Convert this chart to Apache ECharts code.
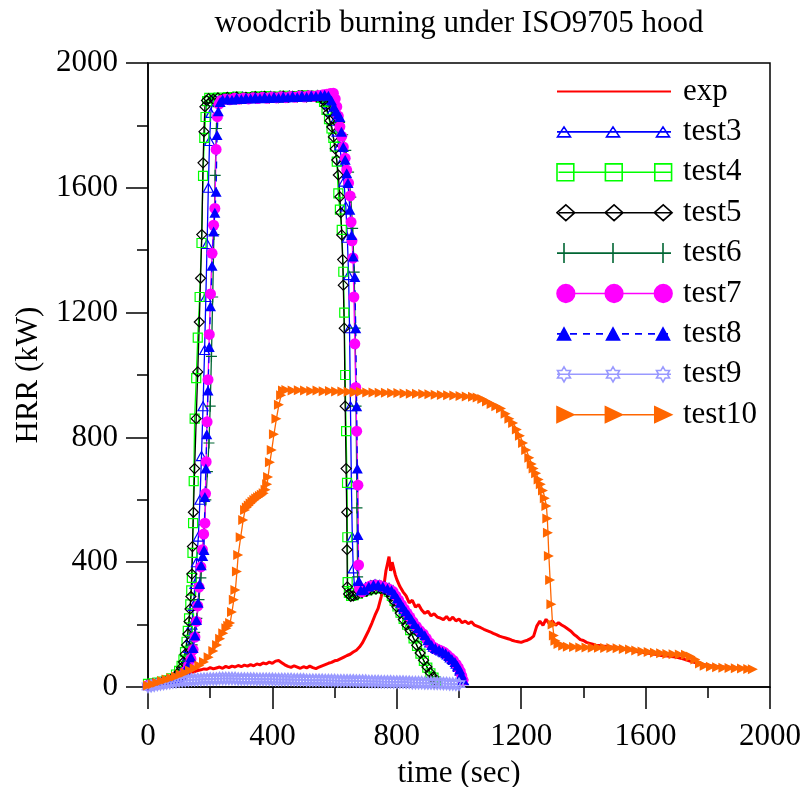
<!DOCTYPE html>
<html>
<head>
<meta charset="utf-8">
<script src="https://cdn.jsdelivr.net/npm/echarts@6/dist/echarts.min.js"></script>
<style>html,body{margin:0;padding:0;background:#fff}#c{width:805px;height:787px}</style>
</head>
<body>
<div id="c"></div>
<script>
// ---------------- data (time sec, HRR kW) ----------------
const xTicks = [0, 400, 800, 1200, 1600, 2000];
const yTicks = [0, 400, 800, 1200, 1600, 2000];
const seriesNames = ['exp','test3','test4','test5','test6','test7','test8','test9','test10'];

const exp = [[0,2],[10,5],[20,9],[30,12],[40,16],[50,18],[60,23],[70,25],[80,29],[90,31],[100,35],[110,37],[120,41],[130,43],[140,47],[150,49],[160,53],[170,55],[180,58],[190,57],[200,62],[210,58],[220,61],[230,64],[240,60],[250,66],[260,62],[270,67],[280,64],[290,69],[300,65],[310,70],[320,67],[330,72],[340,68],[350,74],[360,71],[370,77],[380,74],[390,80],[400,76],[410,83],[420,85],[430,78],[440,71],[450,66],[460,63],[470,68],[480,64],[490,60],[500,65],[510,61],[520,67],[530,62],[540,59],[550,64],[560,68],[570,72],[580,76],[590,79],[600,84],[610,86],[620,91],[630,96],[640,101],[650,105],[660,112],[670,118],[680,128],[690,142],[700,162],[710,182],[720,205],[730,230],[740,252],[750,290],[760,335],[765,372],[770,395],[775,418],[780,372],[785,400],[790,380],[795,360],[800,345],[810,322],[820,305],[830,292],[840,270],[850,278],[860,256],[870,264],[880,247],[890,236],[900,243],[910,228],[920,235],[930,224],[940,221],[950,216],[960,226],[970,214],[980,224],[990,212],[1000,218],[1010,206],[1020,211],[1030,203],[1040,209],[1050,198],[1060,194],[1070,190],[1080,185],[1090,181],[1100,177],[1110,172],[1120,168],[1130,163],[1140,160],[1150,157],[1160,154],[1170,150],[1180,147],[1190,145],[1200,143],[1210,147],[1220,150],[1230,155],[1240,163],[1250,195],[1260,211],[1270,198],[1280,217],[1290,203],[1300,212],[1310,198],[1320,206],[1330,199],[1340,193],[1350,186],[1360,179],[1370,168],[1380,161],[1390,152],[1400,149],[1410,143],[1420,140],[1430,137],[1440,134],[1450,133],[1460,131],[1470,131],[1480,129],[1490,128],[1500,127],[1510,126],[1520,125],[1530,122],[1540,120],[1550,119],[1560,117],[1570,114],[1580,112],[1590,111],[1600,109],[1610,108],[1620,107],[1630,105],[1640,104],[1650,101],[1660,100],[1670,99],[1680,98],[1690,97],[1700,95],[1710,93],[1720,90],[1730,87],[1740,84],[1750,81],[1760,78],[1770,75],[1780,72],[1790,71],[1800,70],[1810,68],[1820,67],[1830,66],[1840,65],[1850,64],[1860,63],[1870,63],[1880,62],[1890,61],[1900,61],[1910,60],[1920,59],[1930,58]];

const test3 = [[0,7],[15,9],[30,11],[45,14],[60,18],[75,23],[90,31],[100,40],[110,54],[118,72],[125,95],[131,125],[136,160],[141,200],[146,260],[151,330],[156,400],[162,482],[167,600],[172,740],[177,900],[182,1080],[186,1250],[190,1420],[194,1600],[198,1750],[202,1840],[207,1878],[214,1887],[229,1885],[244,1889],[259,1886],[274,1891],[289,1888],[304,1892],[319,1887],[334,1891],[349,1889],[364,1893],[379,1890],[394,1894],[409,1889],[424,1892],[439,1890],[454,1895],[469,1891],[484,1894],[499,1892],[514,1896],[529,1893],[544,1895],[558,1893],[570,1885],[580,1868],[590,1845],[600,1815],[608,1780],[616,1735],[623,1685],[630,1620],[636,1540],[641,1440],[645,1320],[648,1150],[651,900],[654,650],[657,480],[660,380],[664,320],[672,308],[686,312],[700,320],[715,326],[730,329],[745,327],[760,324],[775,318],[788,310],[797,295],[806,280],[815,265],[824,250],[833,238],[842,225],[852,210],[863,195],[874,182],[885,172],[895,158],[906,143],[918,129],[930,122],[942,117],[952,112],[962,104],[972,95],[982,87],[991,75],[998,64],[1004,52],[1009,38],[1014,22]];

const test4 = [[0,10],[15,12],[30,14],[45,17],[60,21],[75,28],[90,40],[100,52],[108,68],[114,88],[119,112],[124,145],[128,180],[132,220],[136,265],[139,310],[141,350],[143,430],[145,525],[147,660],[150,860],[155,990],[160,1120],[166,1250],[172,1423],[177,1638],[181,1760],[185,1827],[190,1878],[197,1888],[212,1886],[227,1889],[242,1886],[257,1891],[272,1888],[287,1892],[302,1887],[317,1891],[332,1889],[347,1893],[362,1890],[377,1894],[392,1889],[407,1892],[422,1890],[437,1895],[452,1891],[467,1894],[482,1892],[497,1896],[512,1892],[527,1895],[542,1893],[556,1888],[566,1875],[574,1850],[582,1820],[590,1790],[596,1760],[601,1732],[607,1684],[612,1582],[617,1530],[623,1465],[628,1331],[631,1200],[634,1000],[637,820],[640,654],[641,480],[642,336],[646,302],[653,292],[662,294],[675,299],[690,305],[705,310],[720,314],[735,316],[750,317],[762,315],[774,306],[784,292],[793,276],[802,258],[812,238],[822,218],[833,200],[843,182],[854,156],[865,132],[876,107],[887,84],[898,62],[908,44],[918,30],[926,18]];

const test5 = [[0,8],[15,10],[30,12],[45,15],[60,19],[75,25],[90,36],[100,48],[108,62],[114,80],[119,105],[124,135],[128,170],[132,210],[135,250],[138,290],[141,362],[143,450],[146,560],[150,700],[155,860],[160,1010],[165,1170],[169,1310],[173,1450],[177,1680],[180,1780],[183,1860],[188,1880],[195,1886],[210,1884],[225,1888],[240,1885],[255,1890],[270,1887],[285,1891],[300,1886],[315,1890],[330,1888],[345,1892],[360,1889],[375,1893],[390,1888],[405,1891],[420,1889],[435,1894],[450,1890],[465,1893],[480,1891],[495,1895],[510,1891],[525,1894],[540,1892],[555,1890],[565,1880],[572,1862],[579,1840],[585,1815],[591,1795],[596,1763],[602,1725],[607,1689],[612,1641],[617,1571],[620,1520],[623,1449],[626,1370],[628,1288],[631,1150],[634,900],[637,700],[639,560],[640,440],[641,321],[645,298],[652,290],[660,292],[672,296],[688,302],[703,307],[718,312],[733,314],[748,315],[760,313],[772,305],[782,290],[791,275],[800,257],[811,237],[821,216],[832,199],[842,183],[853,158],[864,134],[875,109],[886,86],[897,64],[907,46],[917,32],[924,20]];

const test6 = [[0,6],[15,8],[30,10],[45,13],[60,16],[75,21],[90,28],[100,35],[110,46],[120,62],[128,82],[135,105],[142,135],[150,175],[157,220],[164,280],[170,350],[176,430],[181,520],[186,600],[191,690],[196,782],[200,900],[204,1060],[208,1250],[212,1450],[216,1640],[220,1790],[225,1860],[232,1882],[245,1886],[260,1884],[275,1889],[290,1886],[305,1890],[320,1887],[335,1891],[350,1888],[365,1892],[380,1889],[395,1893],[410,1890],[425,1894],[440,1890],[455,1894],[470,1892],[485,1896],[500,1893],[515,1896],[530,1894],[545,1897],[560,1895],[573,1890],[585,1880],[596,1862],[606,1840],[616,1810],[626,1770],[636,1720],[645,1650],[652,1570],[658,1470],[663,1330],[666,1150],[669,900],[672,574],[674,353],[678,312],[690,308],[705,318],[720,325],[735,326],[750,323],[765,318],[778,312],[790,302],[800,288],[812,270],[824,250],[836,233],[848,216],[860,200],[872,185],[885,170],[898,150],[910,136],[922,126],[935,119],[948,113],[960,104],[972,95],[984,84],[994,70],[1002,55],[1008,38],[1012,24]];

const test7 = [[0,5],[15,7],[30,9],[45,11],[60,14],[75,18],[90,24],[100,30],[110,38],[120,50],[130,68],[138,90],[145,120],[151,160],[156,210],[160,260],[164,320],[170,385],[175,440],[179,490],[183,525],[185,620],[187,722],[190,850],[193,985],[197,1130],[201,1260],[206,1390],[211,1480],[215,1534],[219,1723],[223,1828],[228,1868],[235,1880],[248,1884],[263,1882],[278,1887],[293,1884],[308,1888],[323,1885],[338,1889],[353,1886],[368,1890],[383,1887],[398,1891],[413,1888],[428,1892],[443,1889],[458,1893],[473,1890],[488,1894],[503,1891],[518,1895],[533,1893],[548,1896],[563,1898],[575,1900],[586,1902],[596,1903],[602,1885],[607,1860],[612,1830],[617,1796],[623,1765],[628,1731],[634,1695],[639,1657],[645,1615],[650,1574],[653,1490],[656,1430],[659,1375],[662,1250],[665,1100],[668,960],[671,820],[675,647],[677,391],[680,315],[688,305],[700,315],[715,324],[730,327],[745,325],[760,320],[775,314],[788,306],[797,292],[806,278],[815,264],[824,250],[833,237],[842,224],[852,209],[863,194],[874,181],[885,170],[895,156],[906,141],[918,128],[930,121],[942,116],[952,111],[962,103],[972,94],[982,85],[991,73],[998,62],[1004,50],[1009,36],[1013,22]];

const test8 = [[0,6],[15,8],[30,10],[45,12],[60,15],[75,19],[90,25],[100,31],[110,40],[120,53],[130,72],[138,95],[145,125],[151,165],[156,215],[161,270],[166,330],[171,390],[176,420],[180,439],[183,609],[186,700],[189,810],[193,950],[197,1090],[201,1220],[206,1350],[211,1460],[215,1520],[219,1587],[222,1769],[226,1845],[232,1875],[240,1883],[255,1885],[270,1882],[285,1888],[300,1885],[315,1889],[330,1886],[345,1890],[360,1887],[375,1891],[390,1888],[405,1892],[420,1889],[435,1893],[450,1890],[465,1894],[480,1891],[495,1895],[510,1892],[525,1896],[540,1894],[555,1897],[568,1898],[580,1895],[590,1880],[598,1860],[605,1845],[611,1835],[617,1827],[622,1780],[628,1731],[634,1690],[639,1647],[643,1615],[649,1530],[655,1449],[660,1380],[665,1314],[668,1150],[671,900],[673,700],[675,487],[678,340],[684,310],[695,312],[710,322],[725,328],[740,327],[755,322],[770,316],[783,310],[793,298],[802,284],[811,270],[820,256],[829,243],[838,231],[847,217],[857,202],[868,188],[879,176],[890,166],[900,150],[912,135],[924,125],[936,119],[947,114],[957,108],[967,99],[977,90],[987,80],[995,68],[1002,56],[1008,40],[1013,24]];

const test9 = [[0,2],[10,4],[20,6],[30,8],[40,10],[50,11],[60,13],[70,14],[80,16],[90,17],[100,19],[110,20],[120,21],[130,22],[140,23],[150,23],[160,24],[170,24],[180,25],[190,25],[200,26],[210,26],[220,26],[230,27],[240,27],[250,27],[260,27],[270,27],[280,27],[290,26],[300,26],[310,26],[320,26],[330,26],[340,26],[350,25],[360,25],[370,25],[380,25],[390,25],[400,25],[410,24],[420,24],[430,24],[440,24],[450,24],[460,24],[470,23],[480,23],[490,23],[500,23],[510,22],[520,22],[530,22],[540,22],[550,22],[560,22],[570,21],[580,21],[590,21],[600,21],[610,20],[620,20],[630,20],[640,20],[650,20],[660,20],[670,19],[680,19],[690,19],[700,19],[710,18],[720,18],[730,18],[740,18],[750,17],[760,17],[770,17],[780,17],[790,16],[800,16],[810,16],[820,16],[830,15],[840,15],[850,14],[860,14],[870,14],[880,14],[890,13],[900,13],[910,13],[920,12],[930,12],[940,12],[950,11],[960,11],[970,10],[980,10],[990,9],[1000,9]];

const test10 = [[0,5],[15,9],[30,14],[45,19],[60,24],[75,29],[90,34],[105,40],[120,46],[135,53],[150,60],[165,69],[180,80],[195,95],[210,115],[222,135],[232,155],[242,172],[252,188],[258,196],[264,205],[270,240],[276,280],[281,311],[286,370],[290,423],[298,480],[306,535],[312,567],[318,575],[324,582],[330,588],[336,594],[342,599],[348,604],[354,608],[360,612],[366,616],[372,621],[378,632],[383,650],[386,673],[392,720],[398,760],[405,810],[413,860],[421,905],[428,935],[434,950],[445,952],[465,950],[485,951],[505,950],[525,949],[545,950],[565,948],[585,949],[605,947],[625,947],[645,946],[665,945],[685,946],[705,944],[725,944],[745,943],[765,943],[785,942],[805,942],[825,941],[845,940],[865,940],[885,939],[905,938],[925,937],[945,936],[965,935],[985,934],[1005,933],[1025,931],[1045,930],[1060,928],[1075,923],[1090,915],[1105,907],[1120,900],[1135,893],[1150,876],[1162,860],[1174,846],[1186,825],[1196,805],[1206,782],[1216,760],[1226,735],[1234,715],[1240,700],[1248,685],[1256,665],[1263,650],[1270,630],[1276,605],[1281,580],[1284,540],[1286,494],[1289,420],[1293,343],[1297,265],[1301,200],[1305,165],[1310,148],[1320,138],[1335,132],[1350,129],[1370,128],[1390,127],[1410,127],[1430,126],[1450,126],[1470,125],[1490,125],[1510,124],[1530,122],[1550,120],[1570,117],[1590,114],[1610,112],[1630,110],[1650,108],[1670,106],[1690,105],[1710,104],[1730,103],[1745,98],[1760,88],[1775,75],[1790,68],[1810,65],[1830,63],[1850,62],[1870,61],[1890,60],[1910,59],[1930,58],[1945,57]];

// ---------------- styling ----------------
const FONT = 'Liberation Serif';
const FS = 31;
const C = {exp:'#ff0000', test3:'#0000ff', test4:'#00ff00', test5:'#000000', test6:'#006633',
           test7:'#ff00ff', test8:'#0000ff', test9:'#9999ff', test10:'#ff6600'};
const CLEAR = 'rgba(0,0,0,0)';

const STAR = 'path://M12 0 L15.46 6 L22.39 6 L18.93 12 L22.39 18 L15.46 18 L12 24 L8.54 18 L1.61 18 L5.07 12 L1.61 6 L8.54 6 Z';
const PLUS = 'path://M6 0 L6 12 M0 6 L12 6';
const TRI_R = 'path://M0 0 L10 5 L0 10 Z';

// legend icon builders (icon box 121 x 20, line 0..114, symbols at 7/56/106)
const CX = [7, 56, 106];
const f = v => v.toFixed(2);
const shapes = {
  triUp:(cx,w,h)=>`M${f(cx-w/2)} ${f(10+h/2)} L${f(cx+w/2)} ${f(10+h/2)} L${f(cx)} ${f(10-h/2)} Z`,
  square:(cx,s)=>`M${f(cx-s/2)} ${f(10-s/2)} L${f(cx+s/2)} ${f(10-s/2)} L${f(cx+s/2)} ${f(10+s/2)} L${f(cx-s/2)} ${f(10+s/2)} Z`,
  diamond:(cx,w,h)=>`M${f(cx-w/2)} 10 L${f(cx)} ${f(10-h/2)} L${f(cx+w/2)} 10 L${f(cx)} ${f(10+h/2)} Z`,
  vbar:(cx,h)=>`M${f(cx)} ${f(10-h/2)} L${f(cx)} ${f(10+h/2)}`,
  circle:(cx,r)=>`M${f(cx-r)} 10 A${r} ${r} 0 1 0 ${f(cx+r)} 10 A${r} ${r} 0 1 0 ${f(cx-r)} 10 Z`,
  triRight:(cx,w,h)=>`M${f(cx-w/2)} ${f(10-h/2)} L${f(cx+w/2)} 10 L${f(cx-w/2)} ${f(10+h/2)} Z`,
  star:(cx,r)=>{
    const pts=[];
    for(let k=0;k<12;k++){const a=(-90+30*k)*Math.PI/180;const rr=k%2===0?r:r/Math.sqrt(3);pts.push([cx+rr*Math.cos(a),10+rr*Math.sin(a)]);}
    return 'M'+pts.map(p=>f(p[0])+' '+f(p[1])).join(' L')+' Z';
  }
};
const BOX = 'M0 0 M121 20 ';
const solidLine = 'M0 10 L114 10 ';
let dashLine = '';
for (let x = 0; x < 114; x += 13) dashLine += `M${x} 10 L${Math.min(x+7,114)} 10 `;
const icon = (line, shapeFn) => 'path://' + BOX + line + (shapeFn ? CX.map(shapeFn).join(' ') : '');

const legendData = [
  {name:'exp', icon: icon(solidLine), itemStyle:{color:C.exp, borderColor:C.exp, borderWidth:2}},
  {name:'test3', icon: icon(solidLine, cx=>shapes.triUp(cx,13,10)), itemStyle:{color:CLEAR, borderColor:C.test3, borderWidth:1.6}},
  {name:'test4', icon: icon(solidLine, cx=>shapes.square(cx,17)), itemStyle:{color:CLEAR, borderColor:C.test4, borderWidth:1.6}},
  {name:'test5', icon: icon(solidLine, cx=>shapes.diamond(cx,18,16)), itemStyle:{color:CLEAR, borderColor:C.test5, borderWidth:1.6}},
  {name:'test6', icon: icon(solidLine, cx=>shapes.vbar(cx,20)), itemStyle:{color:CLEAR, borderColor:C.test6, borderWidth:1.6}},
  {name:'test7', icon: icon(solidLine, cx=>shapes.circle(cx,9)), itemStyle:{color:C.test7, borderColor:C.test7, borderWidth:1.6}},
  {name:'test8', icon: icon(dashLine, cx=>shapes.triUp(cx,13,12)), itemStyle:{color:C.test8, borderColor:C.test8, borderWidth:1.6}},
  {name:'test9', icon: icon(solidLine, cx=>shapes.star(cx,7.5)), itemStyle:{color:CLEAR, borderColor:C.test9, borderWidth:1.6}},
  {name:'test10', icon: icon(solidLine, cx=>shapes.triRight(cx,17,16)), itemStyle:{color:C.test10, borderColor:C.test10, borderWidth:1.6}}
];

function mk(name, data, symbol, size, hollow, extra) {
  const col = C[name];
  return Object.assign({
    name, type:'line', data, symbol, symbolSize:size, showSymbol: symbol !== 'none', showAllSymbol:true,
    lineStyle:{color:col, width:1.3},
    itemStyle: hollow ? {color:CLEAR, borderColor:col, borderWidth:1.2} : {color:col, borderColor:col, borderWidth:0},
    emphasis:{disabled:true}, animation:false, silent:true
  }, extra || {});
}

const series = [
  mk('exp', exp, 'none', 0, false, {lineStyle:{color:C.exp, width:3}}),
  mk('test3', test3, 'triangle', [10,9], true),
  mk('test4', test4, 'rect', 9, true),
  mk('test5', test5, 'diamond', [10,10], true),
  mk('test6', test6, PLUS, 11, true),
  mk('test7', test7, 'circle', 11, false),
  mk('test8', test8, 'triangle', [11,10], false, {lineStyle:{color:C.test8, width:1.3, type:[7,6]}}),
  mk('test9', test9, STAR, [11,12], true, {itemStyle:{color:CLEAR, borderColor:C.test9, borderWidth:1.6}}),
  mk('test10', test10, TRI_R, [10,10], false)
];

const axisCommon = {
  type:'value', min:0, max:2000, interval:400,
  axisLine:{show:true, lineStyle:{color:'#000', width:1.5}},
  axisTick:{show:true, inside:false, length:22, lineStyle:{color:'#000', width:1.5}},
  minorTick:{show:true, splitNumber:2, length:11, lineStyle:{color:'#000', width:1.5}},
  splitLine:{show:false},
  nameLocation:'middle',
  nameTextStyle:{fontFamily:FONT, fontSize:FS, color:'#000'}
};

const chart = echarts.init(document.getElementById('c'), null, {renderer:'canvas'});
chart.setOption({
  backgroundColor:'#fff',
  animation:false,
  title:{text:'woodcrib burning under ISO9705 hood', left:459, textAlign:'center', top:8, padding:0,
         textStyle:{fontFamily:FONT, fontSize:FS, fontWeight:'normal', color:'#000'}},
  grid:{left:148, right:35, top:63, bottom:100, containLabel:false, outerBoundsMode:'none',
        show:true, borderColor:'#000', borderWidth:1.5, backgroundColor:'transparent'},
  legend:{orient:'vertical', left:556, top:76, padding:0, itemWidth:121, itemHeight:20, itemGap:9.4,
          selectedMode:false, textStyle:{fontFamily:FONT, fontSize:FS, color:'#000'}, data:legendData},
  xAxis:Object.assign({}, axisCommon, {name:'time (sec)', nameGap:71,
          axisLabel:{margin:34, fontFamily:FONT, fontSize:FS, color:'#000', formatter:v=>xTicks.includes(v)?String(v):''}}),
  yAxis:Object.assign({}, axisCommon, {name:'HRR (kW)', nameGap:104,
          axisLabel:{margin:30, fontFamily:FONT, fontSize:FS, color:'#000', formatter:v=>yTicks.includes(v)?String(v):''}}),
  series
});
</script>
</body>
</html>
